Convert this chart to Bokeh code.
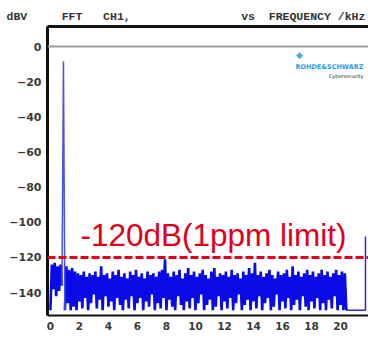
from bokeh.plotting import figure
from bokeh.models import (Range1d, FixedTicker, LinearAxis, Span, Label,
                          ColumnDataSource, Title)
from bokeh.embed import file_html
from bokeh.resources import INLINE

# ---------------- data ----------------
x_ticks = [0, 2, 4, 6, 8, 10, 12, 14, 16, 18, 20]
y_ticks = [0, -20, -40, -60, -80, -100, -120, -140]
header_words = ["dBV", "FFT", "CH1,", "vs", "FREQUENCY /kHz"]
header_cols = [0, 8, 14, 34, 38]          # character columns of the words
limit_db = -120
limit_label = "-120dB(1ppm limit)"

# test tone (the single spectral line)
tone_freq = [0.8, 0.9, 1.0]
tone_db = [-136, -8.5, -150]

# noise floor, one value every 0.1 kHz from 0 kHz (nan = tone bin)
freq_step_khz = 0.1
NAN = float("nan")
noise_db = [
    -150, -124, -138, -123, -142, -125, -139, -124, -136, NAN,
    -150, -125, -146, -127, -150, -126, -148, -128, -150, -129,
    -145, -130, -149, -128, -143, -131, -150, -129, -146, -130,
    -141, -128, -149, -131, -144, -125, -150, -130, -142, -129,
    -148, -132, -145, -128, -150, -130, -143, -127, -147, -131,
    -150, -129, -144, -132, -149, -128, -142, -130, -150, -127,
    -146, -131, -143, -129, -150, -132, -145, -128, -148, -130,
    -141, -129, -150, -131, -146, -128, -149, -127, -143, -121,
    -150, -129, -144, -131, -148, -128, -150, -130, -142, -127,
    -147, -132, -150, -129, -145, -126, -149, -130, -143, -128,
    -150, -131, -146, -129, -141, -127, -150, -130, -147, -132,
    -144, -128, -150, -126, -148, -131, -142, -129, -150, -130,
    -145, -128, -149, -131, -143, -127, -150, -130, -146, -129,
    -141, -132, -150, -128, -147, -130, -144, -126, -150, -129,
    -145, -123, -149, -130, -142, -128, -150, -131, -146, -129,
    -143, -127, -150, -130, -148, -132, -141, -128, -150, -130,
    -145, -129, -149, -127, -143, -131, -150, -125, -147, -130,
    -144, -128, -150, -131, -142, -129, -148, -127, -150, -130,
    -145, -128, -149, -131, -143, -129, -150, -127, -146, -130,
    -150, -128, -144, -131, -149, -129, -142, -127, -150, -130,
    -147, -128, -150, -129, -150,
]
tail_freq = [20.4, 21.72, 21.72]
tail_db = [-150, -150, -108]

noise_freq = [round(i * freq_step_khz, 2) for i in range(len(noise_db))]
noise_src = ColumnDataSource(dict(f=noise_freq, db=noise_db))
tail_src = ColumnDataSource(dict(f=tail_freq, db=tail_db))
tone_src = ColumnDataSource(dict(f=tone_freq, db=tone_db))

# header line built with non-breaking spaces (monospace columns)
NB = "\u00a0"
header = ""
for col, word in zip(header_cols, header_words):
    header += NB * (col - len(header)) + word.replace(" ", NB)

# ---------------- figure ----------------
W, H = 368, 338
FL, FB = 47, 315   # frame left / bottom in page pixels
p = figure(width=W, height=H, output_backend="svg", toolbar_location=None,
           x_range=Range1d(-0.2, 21.93), y_range=Range1d(-153, 11.4),
           min_border_left=FL, min_border_right=0, min_border_top=26,
           min_border_bottom=H - FB, x_axis_type=None, y_axis_type=None,
           background_fill_color="white", border_fill_color="white",
           outline_line_color=None)

lab_font = "DejaVu Sans"
xa = LinearAxis(ticker=FixedTicker(ticks=x_ticks))
ya = LinearAxis(ticker=FixedTicker(ticks=y_ticks))
for ax, w, fs in ((xa, 2, "10.5px"), (ya, 3, "11px")):
    ax.axis_line_color = "#111111"
    ax.axis_line_width = w
    ax.major_tick_line_color = None
    ax.minor_tick_line_color = None
    ax.major_tick_out = 0
    ax.major_tick_in = 0
    ax.major_label_text_font = lab_font
    ax.major_label_text_font_style = "bold"
    ax.major_label_text_font_size = fs
    ax.major_label_text_color = "#3a3a3a"
xa.major_label_standoff = 6
ya.major_label_standoff = 6
p.add_layout(xa, "below")
p.add_layout(ya, "left")

top = LinearAxis(ticker=FixedTicker(ticks=[]))
top.axis_line_color = "#111111"
top.axis_line_width = 3
top.major_tick_line_color = None
top.minor_tick_line_color = None
top.major_label_text_font_size = "0px"
top.major_tick_out = 0
top.major_label_standoff = 0
p.add_layout(top, "above")

p.add_layout(Title(text=header, text_font="Liberation Mono",
                   text_font_style="bold", text_font_size="11.5px",
                   text_color="#333333", align="left", offset=6 - FL,
                   standoff=7), "above")

p.xgrid.ticker = FixedTicker(ticks=[2, 4, 6, 8, 10, 12, 14, 16, 18, 20, 22])
p.ygrid.ticker = FixedTicker(ticks=y_ticks)
p.xgrid.grid_line_color = "#e0e0e0"
p.ygrid.grid_line_color = "#e0e0e0"
p.xgrid.grid_line_width = 1.5
p.ygrid.grid_line_width = 1.5

p.add_layout(Span(location=0, dimension="width", line_color="#9a9a9a",
                  line_width=2))

p.line("f", "db", source=noise_src, line_color="#0a0ae6", line_width=2.6,
       line_join="miter")
p.line("f", "db", source=tail_src, line_color="#2a2ae0", line_width=1.5)
p.line("f", "db", source=tone_src, line_color="#5050e6", line_width=1.5)

p.add_layout(Span(location=limit_db, dimension="width", line_color="#e0001b",
                  line_width=3, line_dash="8 3"))

# texts inside the frame (positions in page pixels from the top-left corner)
def lab(px, py, text, **kw):
    p.add_layout(Label(x=px, y=py, x_units="canvas", y_units="canvas",
                       text=text, **kw))

lab(80, 234, limit_label, text_font="Liberation Sans", text_font_size="31.5px",
    text_color="#e0001b", text_baseline="alphabetic")

lab(299, 54, "\u25c6", text_font="DejaVu Sans", text_font_size="9px",
    text_color="#4aa8f0", text_align="center", text_baseline="middle")
lab(295, 66, "ROHDE&SCHWARZ", text_font="DejaVu Sans", text_font_style="bold",
    text_font_size="6.5px", text_color="#2a9cf0", text_baseline="alphabetic")
lab(363, 75, "Cybersecurity", text_font="DejaVu Sans", text_font_size="5px",
    text_color="#222222", text_align="right", text_baseline="alphabetic")

open("out.html", "w").write(file_html(p, INLINE))
